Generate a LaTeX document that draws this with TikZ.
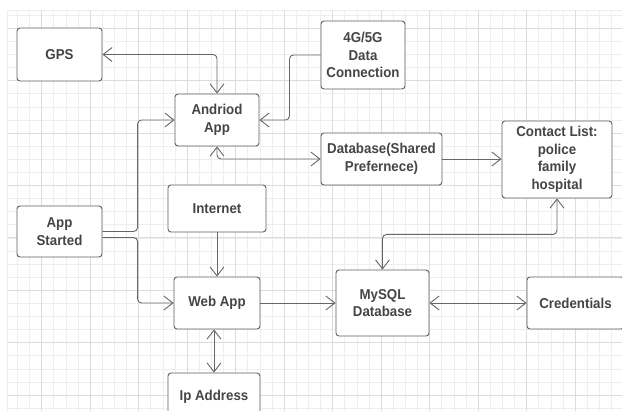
\documentclass[tikz,border=0pt]{standalone}
\usepackage{fontspec}
\setmainfont[FakeStretch=0.93]{Liberation Sans}
\usetikzlibrary{arrows.meta}
\definecolor{gridminor}{HTML}{EEEEEE}
\definecolor{gridmajor}{HTML}{DCDCDC}
\definecolor{boxline}{HTML}{606060}
\definecolor{txt}{HTML}{454545}
\definecolor{conn}{HTML}{666666}
\tikzset{
  box/.style={draw=boxline, line width=0.9pt, rounded corners=3pt, fill=white,
    align=center, text=txt, inner sep=0pt,
    font=\fontsize{14.3}{17.5}\selectfont\bfseries},
  link/.style={draw=conn, line width=0.9pt, rounded corners=4pt},
  barb/.tip={Straight Barb[length=9pt,width=14pt,line width=0.9pt]},
}
\begin{document}
\begin{tikzpicture}[x=1pt,y=-1pt]
\clip (0,0) rectangle (622,411);
\fill[white] (0,0) rectangle (622,411);
% grid
\begin{scope}
\clip (7,10) rectangle (622,411);
\foreach \i in {-2,...,47} {
  \draw[gridminor, line width=0.7pt] ({41.7+12.125*\i},10) -- ({41.7+12.125*\i},411);
}
\foreach \j in {-1,...,29} {
  \draw[gridminor, line width=0.7pt] (7,{28.3+13.1*\j}) -- (622,{28.3+13.1*\j});
}
\foreach \i in {0,...,12} {
  \draw[gridmajor, line width=0.8pt] ({41.7+48.5*\i},10) -- ({41.7+48.5*\i},411);
}
\foreach \j in {0,...,7} {
  \draw[gridmajor, line width=0.8pt] (7,{28.3+52.4*\j}) -- (622,{28.3+52.4*\j});
}
\draw[gridminor, line width=0.7pt] (7,411) -- (7,10) -- (622,10);
\end{scope}
% nodes
\node[box, minimum width=85pt, minimum height=53pt] (gps) at (59.5,54.5) {GPS};
\node[box, minimum width=84pt, minimum height=52pt] (andr) at (217,120) {Andriod\\App};
\node[box, minimum width=84pt, minimum height=68pt] (g45) at (363,55) {4G/5G\\Data\\Connection};
\node[box, minimum width=121pt, minimum height=52pt] (dbsp) at (381.5,159) {Database(Shared\\Prefernece)};
\node[box, minimum width=110pt, minimum height=77pt] (contact) at (557,159.5) {Contact List:\\police\\family\\hospital};
\node[box, minimum width=98pt, minimum height=47pt] (internet) at (217,208.5) {Internet};
\node[box, minimum width=85pt, minimum height=51pt] (started) at (59.5,231.5) {App\\Started};
\node[box, minimum width=86pt, minimum height=52pt] (web) at (217,303) {Web App};
\node[box, minimum width=92pt, minimum height=47pt] (ip) at (214,396.5) {Ip Address};
\node[box, minimum width=93pt, minimum height=66pt] (mysql) at (382.5,303) {MySQL\\Database};
\node[box, minimum width=97pt, minimum height=52pt] (cred) at (575.5,303) {Credentials};
% connectors
\draw[link, {barb}-{barb}] (gps.east) -| (andr.north);
\draw[link, -{barb}] (g45.west) -| ([xshift=30pt]andr.east) -- (andr.east);
\draw[link, {barb}-{barb}] (andr.south) |- (dbsp.west);
\draw[link, -{barb}] (dbsp.east) -- (contact.west |- dbsp.east);
\draw[link, -{barb}] (started.east) -| ([xshift=-37pt]andr.west) -- (andr.west);
\draw[link, -{barb}] ([yshift=-6pt]started.east) -| ([xshift=-36pt]web.west) -- (web.west);
\draw[link, -{barb}] (internet.south) -- (web.north);
\draw[link, {barb}-{barb}] (ip.north |- web.south) -- (ip.north);
\draw[link, -{barb}] (web.east) -- (mysql.west);
\draw[link, {barb}-{barb}] (mysql.east) -- (cred.west);
\draw[link, {barb}-{barb}] (mysql.north) |- ([yshift=-36pt]contact.south) -- (contact.south);
\end{tikzpicture}
\end{document}
